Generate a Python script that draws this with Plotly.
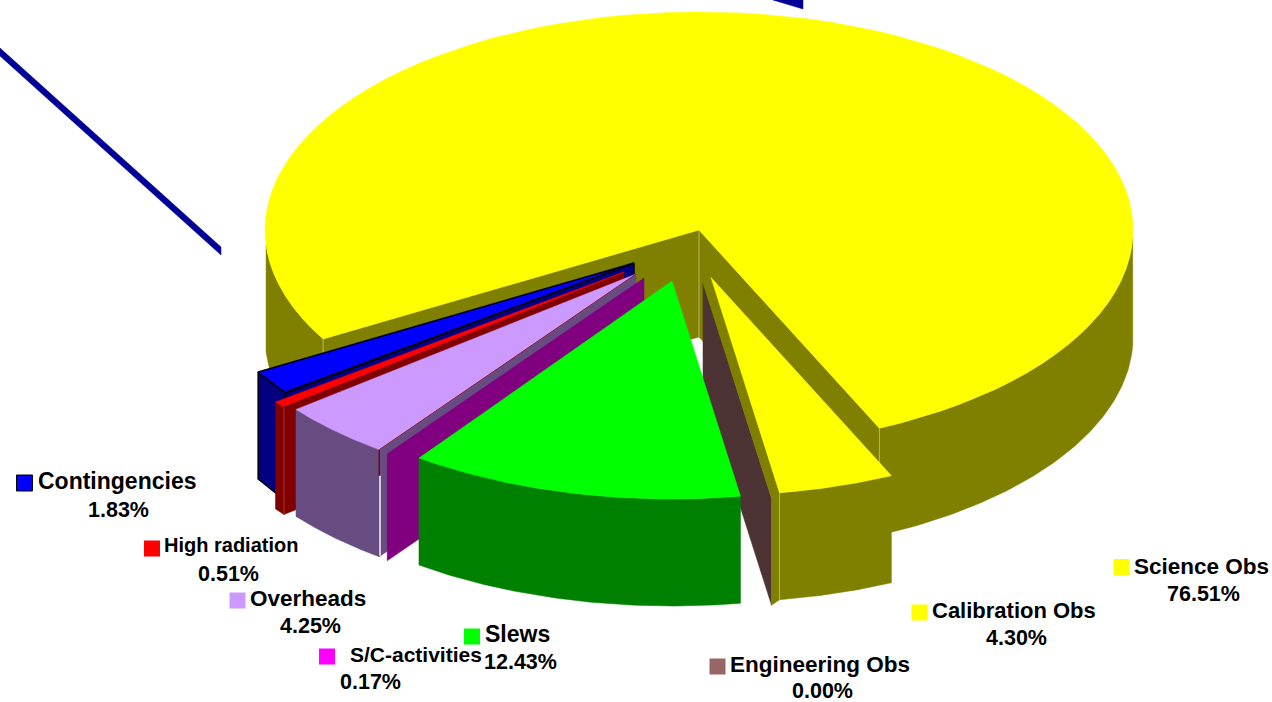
import math
import plotly.graph_objects as go

# ---- data ----
labels = ["Science Obs", "Calibration Obs", "Engineering Obs", "Slews",
          "S/C-activities", "Overheads", "High radiation", "Contingencies"]
shares = [76.51, 4.30, 0.00, 12.43, 0.17, 4.25, 0.51, 1.83]

# ---- style ----
top_colors = ["#FFFF00", "#FFFF00", "#996666", "#00FF00", "#FF00FF", "#CC99FF", "#FF0000", "#0000FF"]
side_colors = ["#808000", "#808000", "#4D3333", "#008000", "#800080", "#664C80", "#800000", "#000080"]
apex_dx = [0, 12, 4, -27, -55, -63, -75, -65]
apex_dy = [0, 47.5, 53, 51, 48, 44, 42, 33]
label_x = [1132, 930, 728, 483, 348, 248, 162, 36]
label_y = [566, 610, 664, 634, 654, 598, 545, 481]
label_size = [22.5, 22, 22.5, 23, 21, 22.5, 20, 23]
pct_x = [1203, 1016, 822, 520, 370, 310, 228, 118]
pct_y = [594, 638, 691, 662, 682, 626, 574, 510]
key_x = [1121.5, 919.5, 717.5, 472, 327, 237.5, 152, 24.5]
key_y = [567, 612.5, 666.5, 636.5, 656.5, 600.5, 548.5, 483]

CX, CY, RX, RY, DEPTH = 699, 230, 434, 218, 107
START_DEG = 150.0
WALL_LEFT_LIMIT, WALL_RIGHT_LIMIT = 176, 362

# angles follow the shares, clockwise on screen
spans = []
a = START_DEG
for v in shares:
    spans.append((a, a + v * 3.6))
    a += v * 3.6


def pt(i, deg):
    t = math.radians(deg)
    return (CX + apex_dx[i] + RX * math.cos(t), CY + apex_dy[i] + RY * math.sin(t))


def apex(i):
    return (CX + apex_dx[i], CY + apex_dy[i])


def arc(i, a0, a1, n=90):
    return [pt(i, a0 + (a1 - a0) * k / n) for k in range(n + 1)]


def down(p, d=DEPTH):
    return (p[0], p[1] + d)


fig = go.Figure()


def poly(points, color, line=None, width=0):
    fig.add_trace(go.Scatter(
        x=[p[0] for p in points] + [points[0][0]],
        y=[p[1] for p in points] + [points[0][1]],
        mode="lines", fill="toself", fillcolor=color,
        line=dict(color=line or color, width=width if line else 0.5),
        hoverinfo="skip", showlegend=False))


def seg(p, q, color, width=1):
    fig.add_trace(go.Scatter(x=[p[0], q[0]], y=[p[1], q[1]], mode="lines",
                             line=dict(color=color, width=width),
                             hoverinfo="skip", showlegend=False))


def wall(i, a0, a1, color=None, **kw):
    top = arc(i, a0, a1)
    poly(top + [down(p) for p in reversed(top)], color or side_colors[i], **kw)


def face(i, deg, color=None, **kw):
    p = pt(i, deg)
    q = apex(i)
    poly([q, p, down(p), down(q)], color or side_colors[i], **kw)


def top(i, **kw):
    a0, a1 = spans[i]
    poly([apex(i)] + arc(i, a0, a1), top_colors[i], **kw)


SCI, CAL, ENG, SLW, SC, OVH, HR, CON = range(8)

# stray leader lines of the original picture
LINE_BLUE = "#000099"
poly([(0, 48), (221, 247), (221, 255), (0, 56)], LINE_BLUE)
poly([(773, 0), (803, 0), (803, 9)], LINE_BLUE)

# Science Obs: body, cut faces, top
s0, s1 = spans[SCI]
wall(SCI, s0, WALL_LEFT_LIMIT)
wall(SCI, WALL_RIGHT_LIMIT, s1)
face(SCI, s0)
face(SCI, s1)
LIGHT = "#B5B56A"
seg(apex(SCI), down(apex(SCI)), LIGHT, 1)
seg(pt(SCI, s0), (pt(SCI, s0)[0], pt(SCI, s0)[1] + 14), LIGHT, 1)
seg(pt(SCI, s1), down(pt(SCI, s1)), LIGHT, 1)
top(SCI)

# Contingencies
c0, c1 = spans[CON]
face(CON, c0, line="#000000", width=1.5)
wall(CON, c0, c1, line="#000000", width=1.5)
top(CON, line="#000000", width=1.5)

# High radiation
h0, h1 = spans[HR]
face(HR, h0)
wall(HR, h0, h1)
top(HR)
seg(pt(HR, h0), down(pt(HR, h0)), "#B04040", 0.8)

# Overheads
o0, o1 = spans[OVH]
face(OVH, o0)
wall(OVH, o0, o1)
top(OVH)
corner = pt(OVH, o0)
seg(corner, (corner[0], corner[1] + 26), "#800000", 1.4)
seg((corner[0] + 0.8, corner[1] + 26), (corner[0] + 0.8, corner[1] + DEPTH - 1), "#FFFFFF", 1.4)
seg(apex(OVH), corner, "#800000", 0.8)

# S/C-activities: only its cut face shows
sc0, sc1 = spans[SC]
face(SC, sc1)

# Engineering Obs: zero share, just a plane
e0 = spans[ENG][0]
face(ENG, e0)

# Slews
g0, g1 = spans[SLW]
wall(SLW, g0, g1)
top(SLW)

# Calibration Obs
k0, k1 = spans[CAL]
wall(CAL, k0, k1)
k_outer = pt(CAL, k1)
e_outer = pt(ENG, e0)
poly([apex(ENG), e_outer, down(e_outer), down(k_outer), k_outer, apex(CAL)], side_colors[CAL])
seg(k_outer, down(k_outer), LIGHT, 1)
top(CAL)

# legend keys
fig.add_trace(go.Scatter(
    x=key_x, y=key_y, mode="markers",
    marker=dict(symbol="square", size=16, color=top_colors,
                line=dict(color=["rgba(0,0,0,0)"] * 7 + ["#000000"], width=1)),
    hoverinfo="skip", showlegend=False))

FONT = "Liberation Sans"
annotations = []
for i, name in enumerate(labels):
    annotations.append(dict(x=label_x[i], y=label_y[i], text=f"<b>{name}</b>", xanchor="left", yanchor="middle",
                            showarrow=False, font=dict(family=FONT, size=label_size[i], color="#000000")))
    annotations.append(dict(x=pct_x[i], y=pct_y[i], text=f"<b>{shares[i]:.2f}%</b>", xanchor="center", yanchor="middle",
                            showarrow=False, font=dict(family=FONT, size=21.5, color="#000000")))

fig.update_layout(
    width=1272, height=702, autosize=False,
    margin=dict(l=0, r=0, t=0, b=0),
    paper_bgcolor="#FFFFFF", plot_bgcolor="#FFFFFF",
    xaxis=dict(range=[0, 1272], visible=False, fixedrange=True),
    yaxis=dict(range=[702, 0], visible=False, fixedrange=True),
    annotations=annotations,
)

fig.write_html("out.html", config={"displayModeBar": False},
               post_script="document.body.style.margin='0';document.body.style.overflow='hidden';")
